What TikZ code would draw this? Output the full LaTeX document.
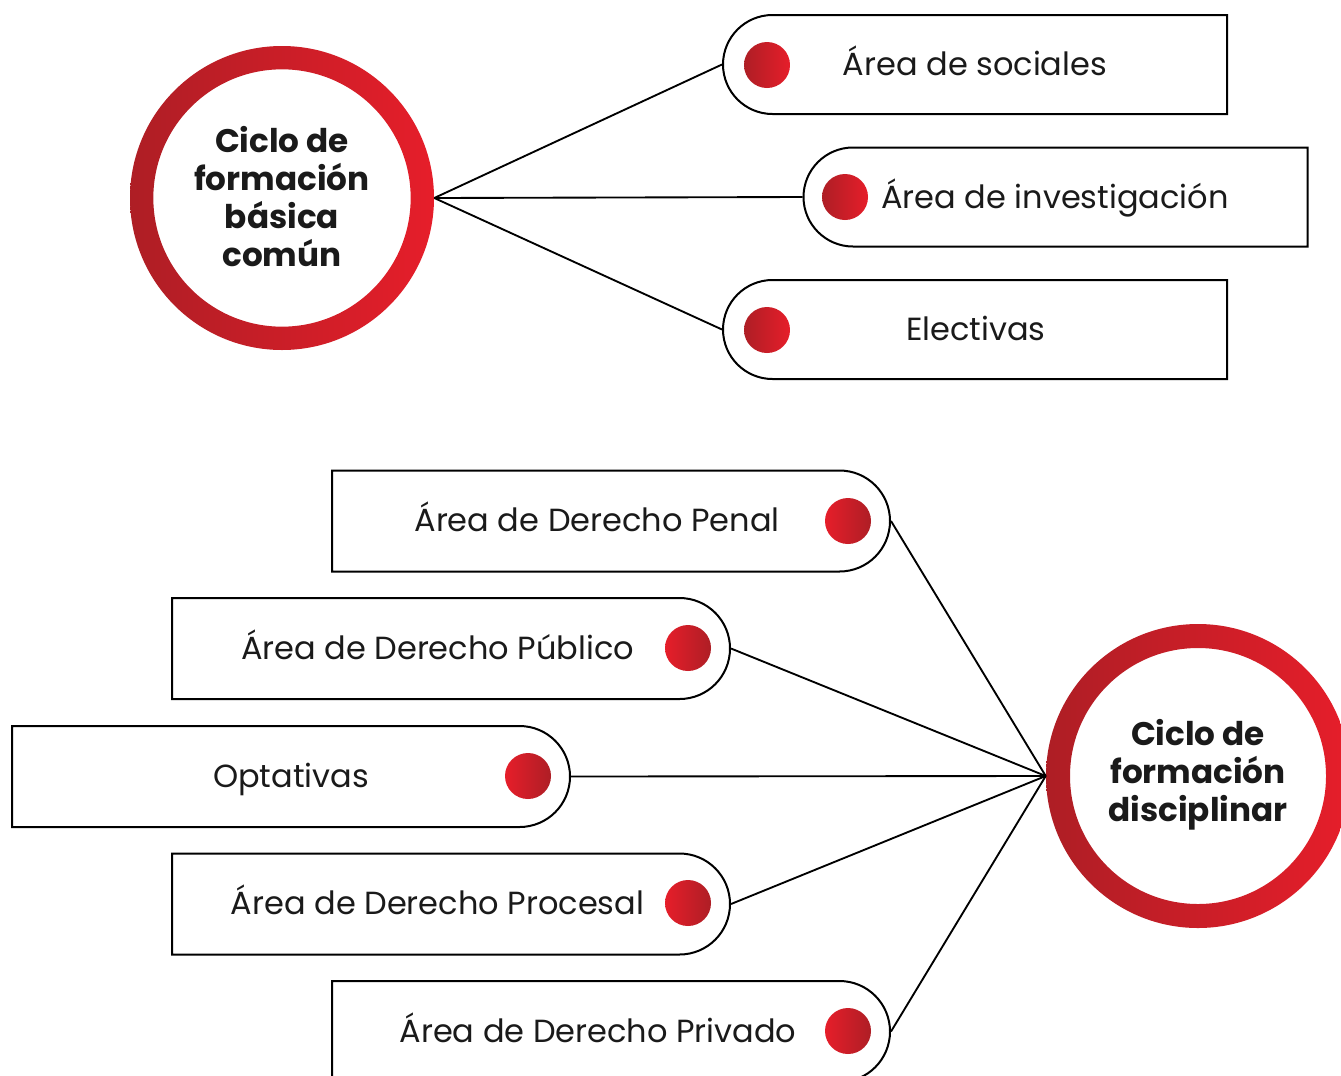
\documentclass[tikz,border=0pt]{standalone}
\usepackage{fontspec}
\setmainfont{Poppins}
\usetikzlibrary{shapes.misc}
\definecolor{rdark}{HTML}{AE1E25}
\definecolor{rbright}{HTML}{E61E2A}
\definecolor{ink}{HTML}{1A1A1A}
\begin{document}
\begin{tikzpicture}[x=0.75pt,y=-0.75pt,
  lbox/.style={rounded rectangle, rounded rectangle right arc=none, draw=black, fill=white, line width=1.5pt, minimum width=378pt, minimum height=74.25pt, inner sep=0pt},
  rbox/.style={rounded rectangle, rounded rectangle left arc=none, draw=black, fill=white, line width=1.5pt, minimum width=418.5pt, minimum height=75.75pt, inner sep=0pt},
  lbl/.style={font=\fontsize{24}{28}\selectfont, text=ink, inner sep=0pt, text height=0.7em, text depth=0pt},
  hub/.style={circle, minimum size=228pt, inner sep=0pt},
  hubtxt/.style={font=\bfseries\fontsize{24.5}{28.5}\selectfont, align=center, text=ink, inner sep=0pt},
  dotl/.style={circle, minimum size=34.5pt, inner sep=0pt, left color=rdark, right color=rbright},
  dotr/.style={circle, minimum size=34.5pt, inner sep=0pt, left color=rbright, right color=rdark},
  link/.style={line width=1.4pt, draw=black}]
\useasboundingbox (0,0) rectangle (1341,1075);

% hubs
\node[hub] (c1) at (282,198) {};
\shade[even odd rule, left color=rdark, right color=rbright] (c1.center) circle[radius=114pt] (c1.center) circle[radius=96.5pt];
\node[hubtxt] (c1t) at (282,197) {Ciclo de\\formación\\básica\\común};

\node[hub] (c2) at (1198,776) {};
\shade[even odd rule, left color=rdark, right color=rbright] (c2.center) circle[radius=114pt] (c2.center) circle[radius=96pt];
\node[hubtxt] (c2t) at (1198,775) {Ciclo de\\formación\\disciplinar};

% top boxes
\node[lbox] (s1) at (975,64.5) {};
\node[lbox] (s2) at (1055.5,197) {};
\node[lbox] (s3) at (975,329.5) {};
\node[dotl] (d1) at (767,65) {};
\node[dotl] (d2) at (845,197) {};
\node[dotl] (d3) at (767,330) {};
\node[lbl] (t1) at (975,71) {Área de sociales};
\node[lbl] (t2) at (1055,204) {Área de investigación};
\node[lbl] (t3) at (976,336) {Electivas};

\draw[link] (c1.east) -- (s1.west);
\draw[link] (c1.east) -- (s2.west);
\draw[link] (c1.east) -- (s3.west);

% bottom boxes
\node[rbox] (b1) at (611,521) {};
\node[rbox] (b2) at (451,648.5) {};
\node[rbox] (b3) at (291,776.5) {};
\node[rbox] (b4) at (451,904) {};
\node[rbox] (b5) at (611,1031.5) {};
\node[dotr] (e1) at (848,521) {};
\node[dotr] (e2) at (688,648) {};
\node[dotr] (e3) at (528,776) {};
\node[dotr] (e4) at (688,903) {};
\node[dotr] (e5) at (848,1031) {};
\node[lbl] (u1) at (597,527) {Área de Derecho Penal};
\node[lbl] (u2) at (437.5,655) {Área de Derecho Público};
\node[lbl] (u3) at (291,783) {Optativas};
\node[lbl] (u4) at (437.5,910) {Área de Derecho Procesal};
\node[lbl] (u5) at (598,1038) {Área de Derecho Privado};

\draw[link] (c2.west) -- (b1.east);
\draw[link] (c2.west) -- (b2.east);
\draw[link] (c2.west) -- (b3.east);
\draw[link] (c2.west) -- (b4.east);
\draw[link] (c2.west) -- (b5.east);
\end{tikzpicture}
\end{document}
